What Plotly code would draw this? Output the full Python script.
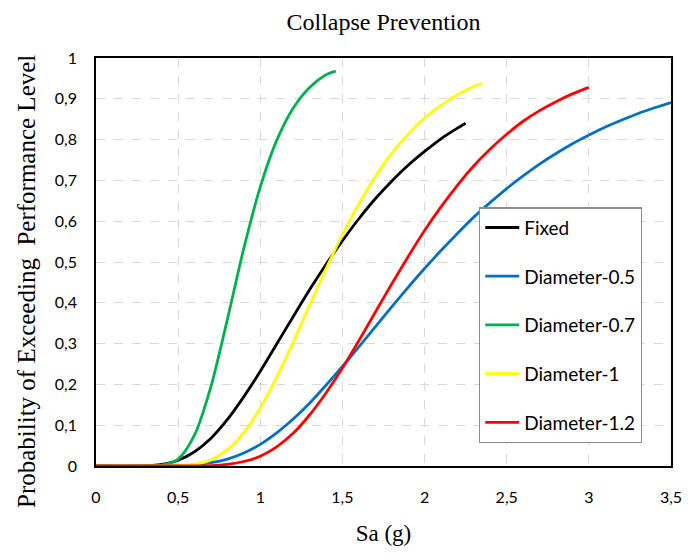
import plotly.graph_objects as go

# Spectral acceleration Sa (g) sample points for each fragility curve
sa_fixed = [0, 0.3, 0.4, 0.5, 0.6, 0.7, 0.8, 0.9, 1.0, 1.1, 1.2, 1.3, 1.4, 1.5, 1.6, 1.7, 1.8, 1.9, 2.0, 2.1, 2.2, 2.25]
p_fixed = [0, 0.0005, 0.004, 0.014, 0.035, 0.068, 0.114, 0.170, 0.232, 0.299, 0.366, 0.432, 0.494, 0.552, 0.606, 0.655, 0.698, 0.737, 0.771, 0.802, 0.828, 0.840]

sa_d05 = [0, 0.4, 0.5, 0.6, 0.7, 0.8, 0.9, 1.0, 1.1, 1.2, 1.3, 1.4, 1.5, 1.6, 1.7, 1.8, 1.9, 2.0, 2.1, 2.2, 2.3, 2.4, 2.5, 2.6, 2.7, 2.8, 2.9, 3.0, 3.1, 3.2, 3.3, 3.4, 3.5]
p_d05 = [0, 0.0001, 0.0007, 0.003, 0.008, 0.017, 0.032, 0.053, 0.081, 0.115, 0.154, 0.198, 0.244, 0.292, 0.341, 0.390, 0.438, 0.484, 0.528, 0.570, 0.610, 0.646, 0.680, 0.711, 0.740, 0.766, 0.790, 0.811, 0.831, 0.848, 0.864, 0.878, 0.891]

sa_d07 = [0, 0.3, 0.4, 0.5, 0.6, 0.7, 0.8, 0.9, 1.0, 1.1, 1.2, 1.3, 1.4, 1.46]
p_d07 = [0, 0.0001, 0.002, 0.017, 0.076, 0.195, 0.360, 0.534, 0.684, 0.798, 0.877, 0.928, 0.959, 0.968]

sa_d10 = [0, 0.4, 0.5, 0.6, 0.7, 0.8, 0.9, 1.0, 1.1, 1.2, 1.3, 1.4, 1.5, 1.6, 1.7, 1.8, 1.9, 2.0, 2.1, 2.2, 2.3, 2.35]
p_d10 = [0, 0.0001, 0.0007, 0.004, 0.015, 0.040, 0.082, 0.142, 0.217, 0.303, 0.394, 0.483, 0.567, 0.642, 0.709, 0.766, 0.813, 0.853, 0.884, 0.910, 0.930, 0.938]

sa_d12 = [0, 0.5, 0.6, 0.7, 0.8, 0.9, 1.0, 1.1, 1.2, 1.3, 1.4, 1.5, 1.6, 1.7, 1.8, 1.9, 2.0, 2.1, 2.2, 2.3, 2.4, 2.5, 2.6, 2.7, 2.8, 2.9, 3.0]
p_d12 = [0, 0.0001, 0.0002, 0.001, 0.004, 0.011, 0.024, 0.047, 0.080, 0.125, 0.179, 0.240, 0.307, 0.377, 0.446, 0.513, 0.577, 0.635, 0.688, 0.736, 0.777, 0.813, 0.845, 0.871, 0.893, 0.912, 0.928]

series = [
    ("Fixed", sa_fixed, p_fixed, "#000000"),
    ("Diameter-0.5", sa_d05, p_d05, "#0070C0"),
    ("Diameter-0.7", sa_d07, p_d07, "#00B050"),
    ("Diameter-1", sa_d10, p_d10, "#FFFF00"),
    ("Diameter-1.2", sa_d12, p_d12, "#FF0000"),
]

x_ticks = [0, 0.5, 1, 1.5, 2, 2.5, 3, 3.5]
x_tick_text = ["0", "0,5", "1", "1,5", "2", "2,5", "3", "3,5"]
y_ticks = [0, 0.1, 0.2, 0.3, 0.4, 0.5, 0.6, 0.7, 0.8, 0.9, 1]
y_tick_text = ["0", "0,1", "0,2", "0,3", "0,4", "0,5", "0,6", "0,7", "0,8", "0,9", "1"]

serif = "Liberation Serif, Times New Roman, serif"
sans = "Lato, Open Sans, sans-serif"

fig = go.Figure()
for name, xs, ys, color in series:
    fig.add_trace(go.Scatter(
        x=xs, y=ys, mode="lines", name=name, legendgroup=name,
        line=dict(color=color, width=2.8, shape="spline", smoothing=0.8),
    ))

axis_common = dict(
    showline=True, linecolor="#000000", linewidth=1.5, mirror=True,
    showgrid=True, gridcolor="#D9D9D9", gridwidth=1.3, griddash="dash",
    zeroline=False, ticks="", tickfont=dict(family=sans, size=16, color="#000000"),
)

fig.update_layout(
    width=694, height=560,
    margin=dict(l=96, r=15, t=58, b=94),
    paper_bgcolor="white", plot_bgcolor="white",
    title=dict(text="Collapse Prevention", x=0.5, xref="paper", y=0.962, yanchor="middle",
               font=dict(family=serif, size=24, color="#000000")),
    xaxis=dict(range=[0, 3.5], tickvals=x_ticks, ticktext=x_tick_text,
               ticklabelstandoff=16,
               title=dict(text="Sa (g)", font=dict(family=serif, size=23, color="#000000"), standoff=20),
               **axis_common),
    yaxis=dict(range=[0, 1], tickvals=y_ticks, ticktext=y_tick_text,
               ticklabelstandoff=14, **axis_common),
    legend=dict(x=0.666, y=0.634, xanchor="left", yanchor="top",
                bgcolor="white", bordercolor="#8C8C8C", borderwidth=1.3,
                font=dict(family=sans, size=19, color="#000000"),
                tracegroupgap=21, itemwidth=34),
    showlegend=True,
)

# Vertical y-axis caption, placed beside the tick labels
fig.add_annotation(
    text="Probability of Exceeding  Performance Level",
    xref="paper", yref="paper", x=-0.122, y=0.453,
    xanchor="center", yanchor="middle", textangle=-90, showarrow=False,
    font=dict(family=serif, size=25, color="#000000"),
)

fig.write_html("out.html")
